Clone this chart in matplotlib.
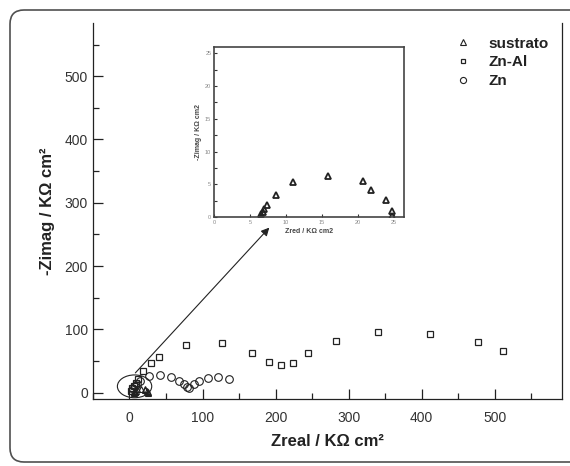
import matplotlib.pyplot as plt
import numpy as np
from matplotlib.patches import Ellipse, PathPatch
from matplotlib.path import Path
from matplotlib.ticker import MultipleLocator

plt.rcParams['font.family'] = ['Liberation Sans', 'DejaVu Sans']

# sustrato (triangles), values in KOhm cm2
sus_x = [6.5, 6.6, 6.85, 7.0, 7.4, 8.6, 11.0, 15.9, 20.7, 21.8, 23.9, 24.8, 24.8]
sus_y = [0.05, 0.45, 0.8, 1.2, 1.8, 3.4, 5.3, 6.2, 5.5, 4.2, 2.6, 0.9, 0.1]

# Zn-Al (squares)
znal_x = [2, 4, 6, 9, 12, 19, 30, 40, 78, 127, 168, 191, 208, 224, 245, 283, 340, 411, 477, 511]
znal_y = [3, 7, 11, 15, 21, 35, 47, 57, 76, 79, 63, 49, 44, 47, 63, 82, 96, 92, 80, 66]

# Zn (circles)
zn_x = [5, 8, 11, 14, 27, 42, 57, 68, 75, 79, 82, 88, 95, 107, 121, 136]
zn_y = [6, 10, 14, 18, 26, 28, 25, 19, 13, 9, 7, 13, 19, 23, 25, 22]

W, H = 570, 466
fig = plt.figure(figsize=(5.7, 4.66), dpi=100)

# outer frame: left side rounded, right side open (in pixels, y from top)
r = 14
pts = [(W + 5, 10), (10 + r, 10), (10, 10), (10, 10 + r), (10, H - 4 - r),
       (10, H - 4), (10 + r, H - 4), (W + 5, H - 4)]
codes = [Path.MOVETO, Path.LINETO, Path.CURVE3, Path.CURVE3, Path.LINETO,
         Path.CURVE3, Path.CURVE3, Path.LINETO]
verts = [(x / W, 1 - y / H) for x, y in pts]
fig.patches.append(PathPatch(Path(verts, codes), transform=fig.transFigure, fill=False,
                             edgecolor='#505050', linewidth=1.2, zorder=0))

ax = fig.add_axes([0.163, 0.1438, 0.823, 0.8068])
ax.plot(sus_x, sus_y, linestyle='none', marker='^', markersize=5,
        markerfacecolor='none', markeredgecolor='#222222', markeredgewidth=0.8, label='sustrato')
ax.plot(znal_x, znal_y, linestyle='none', marker='s', markersize=4,
        markerfacecolor='none', markeredgecolor='#222222', markeredgewidth=0.9, label='Zn-Al')
ax.plot(zn_x, zn_y, linestyle='none', marker='o', markersize=5.5,
        markerfacecolor='none', markeredgecolor='#222222', markeredgewidth=0.8, label='Zn')

ax.set_xlim(-50, 592)
ax.set_ylim(-10, 584)
ax.xaxis.set_minor_locator(MultipleLocator(50))
ax.yaxis.set_minor_locator(MultipleLocator(50))
ax.set_xticks(np.arange(0, 501, 100))
ax.set_yticks(np.arange(0, 501, 100))
ax.tick_params(which='both', direction='in', colors='#222222', labelcolor='#333333', labelsize=10)
ax.tick_params(which='major', length=7, width=0.9)
ax.tick_params(which='minor', length=4, width=0.9)
ax.tick_params(axis='x', pad=9)
ax.spines['top'].set_visible(False)
for s in ['left', 'bottom', 'right']:
    ax.spines[s].set_color('#222222')
    ax.spines[s].set_linewidth(0.9)

ax.set_xlabel('Zreal / K\u03a9 cm\u00b2', fontsize=12, fontweight='bold',
              color='#222222', labelpad=6)
ax.set_ylabel('-Zimag / K\u03a9 cm\u00b2', fontsize=12, fontweight='bold',
              color='#222222', labelpad=7)

leg = ax.legend(loc='upper right', bbox_to_anchor=(1.0, 1.0), frameon=False,
                prop={'weight': 'bold', 'size': 11}, handletextpad=0.9,
                labelspacing=0.3, handlelength=1.5, markerscale=0.8)
for t in leg.get_texts():
    t.set_color('#222222')

# ellipse around origin and arrow to inset
ax.add_patch(Ellipse((7, 10), 47, 36, fill=False, edgecolor='#222222', linewidth=0.8))
ax.annotate('', xy=(194, 264), xytext=(5.5, 28),
            arrowprops=dict(arrowstyle='-|>', color='#222222', lw=0.8, mutation_scale=12))

# inset
ins = fig.add_axes([0.3754, 0.5343, 0.3334, 0.3655])
ins.plot(sus_x, sus_y, linestyle='none', marker='^', markersize=4.5,
         markerfacecolor='none', markeredgecolor='#222222', markeredgewidth=1.3)
ins.set_xlim(0, 26.4)
ins.set_ylim(0, 26)
ins.xaxis.set_major_locator(MultipleLocator(5))
ins.yaxis.set_major_locator(MultipleLocator(5))
ins.yaxis.set_minor_locator(MultipleLocator(2.5))
ins.tick_params(which='both', direction='in', colors='#333333', labelcolor='#888888',
                labelsize=4, length=2, width=0.8, pad=2)
for s in ins.spines.values():
    s.set_color('#444444')
    s.set_linewidth(1.2)
ins.set_xlabel('Zred / K\u03a9 cm2', fontsize=5, fontweight='bold', color='#444444', labelpad=2)
ins.set_ylabel('-Zimag / K\u03a9 cm2', fontsize=5, fontweight='bold', color='#444444', labelpad=2)

fig.savefig('out.png', dpi=100)
